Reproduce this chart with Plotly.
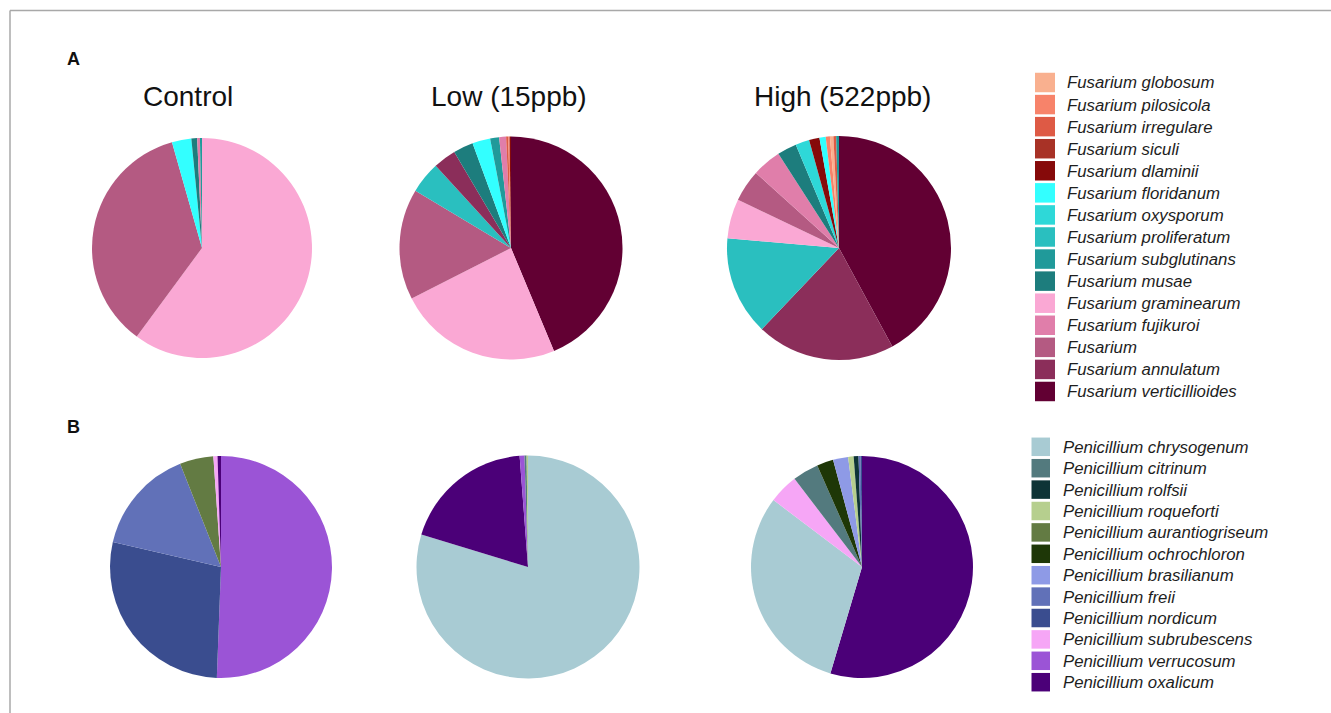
import plotly.graph_objects as go

W, H = 1331, 713

# ---------------- data ----------------
fus_labels = ["Fusarium globosum", "Fusarium pilosicola", "Fusarium irregulare", "Fusarium siculi",
              "Fusarium dlaminii", "Fusarium floridanum", "Fusarium oxysporum", "Fusarium proliferatum",
              "Fusarium subglutinans", "Fusarium musae", "Fusarium graminearum", "Fusarium fujikuroi",
              "Fusarium", "Fusarium annulatum", "Fusarium verticillioides"]
fus_colors = ["#F9B08F", "#F7836A", "#DE5A45", "#A83226", "#860A0A", "#33FFFF", "#2ED8D8", "#2ABFBF",
              "#209A9A", "#1D7D7D", "#FAA8D4", "#E07EAA", "#B45A82", "#8B2E5A", "#620033"]
fus_control = [0, 0, 0, 0, 0, 2.85, 0, 0, 0.3, 0.85, 60.1, 0.4, 35.5, 0, 0]
fus_low = [0, 0.2, 0.3, 0, 0.2, 2.6, 0, 4.6, 1.3, 2.9, 23.8, 1.0, 16.1, 3.3, 43.7]
fus_high = [0.5, 0.6, 0.4, 0, 1.5, 0.9, 2.0, 14.3, 0.4, 2.8, 5.7, 4.2, 4.6, 20.0, 42.1]

pen_labels = ["Penicillium chrysogenum", "Penicillium citrinum", "Penicillium rolfsii",
              "Penicillium roqueforti", "Penicillium aurantiogriseum", "Penicillium ochrochloron",
              "Penicillium brasilianum", "Penicillium freii", "Penicillium nordicum",
              "Penicillium subrubescens", "Penicillium verrucosum", "Penicillium oxalicum"]
pen_colors = ["#A8CBD3", "#537A7E", "#0E3436", "#B6CF8E", "#637B43", "#1E3707", "#8E9AE6",
              "#6171B8", "#3A4D8F", "#F6A6F6", "#9B54D6", "#4B0078"]
pen_control = [0, 0, 0, 0, 4.9, 0, 0, 15.4, 28.0, 0.6, 50.6, 0.5]
pen_low = [79.7, 0.3, 0, 0.2, 0, 0, 0, 0, 0, 0, 0.7, 19.1]
pen_high = [30.7, 3.8, 0.7, 0.8, 0, 2.4, 2.2, 0.3, 0.2, 4.3, 0, 54.6]

group_titles = ["Control", "Low (15ppb)", "High (522ppb)"]
panel_labels = ["A", "B"]

# ---------------- layout helpers (pixel -> paper) ----------------
def px(x):
    return x / W

def py(y):
    return 1 - y / H

def domain(cx, cy, r):
    return dict(x=[px(cx - r), px(cx + r)], y=[py(cy + r), py(cy - r)])

fig = go.Figure()

pies = [
    (fus_labels, fus_colors, fus_control, (202, 248, 110)),
    (fus_labels, fus_colors, fus_low, (511, 248, 111.5)),
    (fus_labels, fus_colors, fus_high, (839, 248, 112)),
    (pen_labels, pen_colors, pen_control, (221, 567, 111)),
    (pen_labels, pen_colors, pen_low, (528, 567, 111.5)),
    (pen_labels, pen_colors, pen_high, (862, 567, 111)),
]
for labels, colors, vals, (cx, cy, r) in pies:
    fig.add_trace(go.Pie(
        labels=labels, values=vals,
        marker=dict(colors=colors, line=dict(width=0)),
        sort=True, direction="clockwise", rotation=0,
        textinfo="none", hoverinfo="label+percent",
        domain=domain(cx, cy, r), showlegend=False,
    ))

FONT = "Liberation Sans, Arial, sans-serif"
annotations = []
shapes = []

# group titles
for t, x in zip(group_titles, [188, 509, 842]):
    annotations.append(dict(text=t, x=px(x), y=py(96), xref="paper", yref="paper",
                            xanchor="center", yanchor="middle", showarrow=False,
                            font=dict(family=FONT, size=28, color="#111111")))
# panel letters
for t, y in zip(panel_labels, [59, 427]):
    annotations.append(dict(text="<b>%s</b>" % t, x=px(65), y=py(y), xref="paper", yref="paper",
                            xanchor="left", yanchor="middle", showarrow=False,
                            font=dict(family=FONT, size=18, color="#111111")))

# legends
def legend(labels, colors, x0, sw, sh, y0, dy, tx):
    for i, (lab, col) in enumerate(zip(labels, colors)):
        yc = y0 + i * dy
        shapes.append(dict(type="rect", xref="paper", yref="paper",
                           x0=px(x0), x1=px(x0 + sw), y0=py(yc + sh / 2), y1=py(yc - sh / 2),
                           fillcolor=col, line=dict(width=0)))
        annotations.append(dict(text="<i>%s</i>" % lab, x=px(tx), y=py(yc + 0.5), xref="paper", yref="paper",
                                xanchor="left", yanchor="middle", showarrow=False,
                                font=dict(family=FONT, size=16.8, color="#1E1E1E")))

legend(fus_labels, fus_colors, 1035, 20, 19.5, 82.5, 22.07, 1065)
legend(pen_labels, pen_colors, 1031.5, 18.5, 18.5, 446.8, 21.4, 1060.5)

# frame lines (top and left)
shapes.append(dict(type="line", xref="paper", yref="paper", x0=px(10), x1=1, y0=py(10.5), y1=py(10.5),
                   line=dict(color="#A8A8A8", width=1.5)))
shapes.append(dict(type="line", xref="paper", yref="paper", x0=px(10), x1=px(10), y0=py(10.5), y1=0,
                   line=dict(color="#A8A8A8", width=1.5)))

fig.update_layout(width=W, height=H, margin=dict(l=0, r=0, t=0, b=0),
                  paper_bgcolor="white", plot_bgcolor="white",
                  annotations=annotations, shapes=shapes, showlegend=False)

fig.write_html("out.html", config={"displayModeBar": False})
